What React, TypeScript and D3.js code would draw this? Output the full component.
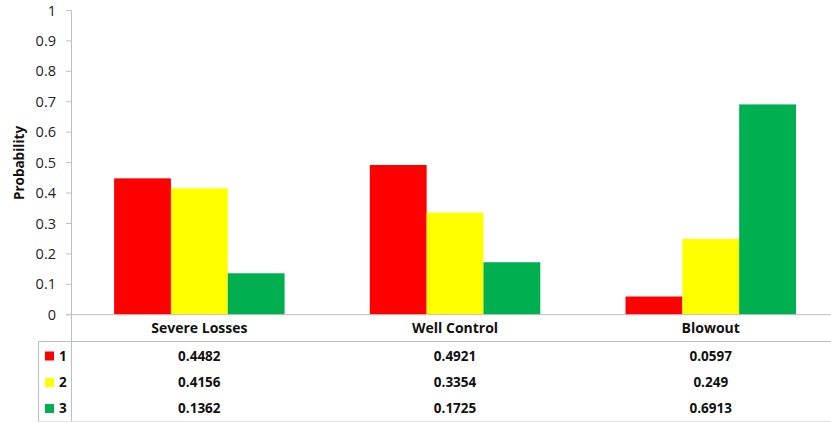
import React from "react";
import * as d3 from "d3";

const categories = ["Severe Losses", "Well Control", "Blowout"];
const seriesNames = ["1", "2", "3"];
const series1 = [0.4482, 0.4921, 0.0597];
const series2 = [0.4156, 0.3354, 0.249];
const series3 = [0.1362, 0.1725, 0.6913];
const seriesValues = [series1, series2, series3];
const seriesColors = ["#FF0000", "#FFFF00", "#00B050"];
const yTicks = [0, 0.1, 0.2, 0.3, 0.4, 0.5, 0.6, 0.7, 0.8, 0.9, 1];
const yTitle = "Probability";

const W = 831;
const H = 423;
const FONT = "'Open Sans', 'Noto Sans', sans-serif";

export default function App() {
  const x0 = 71.5;
  const band = 255.7;
  const x = d3
    .scaleBand<string>()
    .domain(categories)
    .range([x0, x0 + band * categories.length])
    .paddingInner(1 / 3)
    .paddingOuter(1 / 6);
  const xs = d3
    .scaleBand<string>()
    .domain(seriesNames)
    .range([0, x.bandwidth()]);
  const y = d3.scaleLinear().domain([0, 1]).range([314.7, 10.5]);

  const axisX = 71.5;
  const tableTop = y(0);
  const headerBottom = 341.5;
  const tableBottom = 421.5;
  const rowY = [356, 382.5, 408.5];
  const grid = "#BFBFBF";

  return (
    <svg
      width={W}
      height={H}
      style={{ position: "absolute", left: 0, top: 0, background: "#fff" }}
      fontFamily={FONT}
    >
      {/* bars */}
      {categories.map((c, ci) => (
        <g key={c} transform={`translate(${x(c)},0)`}>
          {seriesNames.map((s, si) => {
            const v = seriesValues[si][ci];
            return (
              <rect
                key={s}
                x={xs(s)}
                y={y(v)}
                width={xs.bandwidth()}
                height={y(0) - y(v)}
                fill={seriesColors[si]}
              />
            );
          })}
        </g>
      ))}

      {/* y axis */}
      <line x1={axisX} x2={axisX} y1={y(1)} y2={tableBottom} stroke={grid} />
      {yTicks.map((t) => (
        <g key={t}>
          <line x1={66} x2={axisX} y1={y(t)} y2={y(t)} stroke={grid} />
          <text
            x={56}
            y={y(t)}
            dy="0.35em"
            textAnchor="end"
            fontSize={14.5}
            fill="#222"
          >
            {d3.format("")(t)}
          </text>
        </g>
      ))}
      <text
        transform={`translate(19,${163}) rotate(-90)`}
        textAnchor="middle"
        dy="0.35em"
        fontSize={13.5}
        fontWeight="bold"
        fill="#111"
      >
        {yTitle}
      </text>

      {/* data table */}
      <line x1={66} x2={W} y1={tableTop} y2={tableTop} stroke={grid} />
      <line x1={38.5} x2={W} y1={headerBottom} y2={headerBottom} stroke={grid} />
      <line x1={38.5} x2={W} y1={tableBottom} y2={tableBottom} stroke="#E4E4E4" />
      <line x1={38.5} x2={38.5} y1={headerBottom} y2={tableBottom} stroke={grid} />
      {categories.map((c) => (
        <text
          key={c}
          x={(x(c) as number) + x.bandwidth() / 2}
          y={328.5}
          dy="0.35em"
          textAnchor="middle"
          fontSize={14}
          fontWeight="bold"
          fill="#111"
        >
          {c}
        </text>
      ))}
      {seriesNames.map((s, si) => (
        <g key={s}>
          <rect x={45} y={rowY[si] - 4.5} width={9} height={9} fill={seriesColors[si]} />
          <text
            x={59}
            y={rowY[si]}
            dy="0.35em"
            fontSize={13.5}
            fontWeight="bold"
            fill="#111"
          >
            {s}
          </text>
          {categories.map((c, ci) => (
            <text
              key={c}
              x={(x(c) as number) + x.bandwidth() / 2}
              y={rowY[si]}
              dy="0.35em"
              textAnchor="middle"
              fontSize={13.5}
              fontWeight="bold"
              fill="#111"
            >
              {String(seriesValues[si][ci])}
            </text>
          ))}
        </g>
      ))}
    </svg>
  );
}
